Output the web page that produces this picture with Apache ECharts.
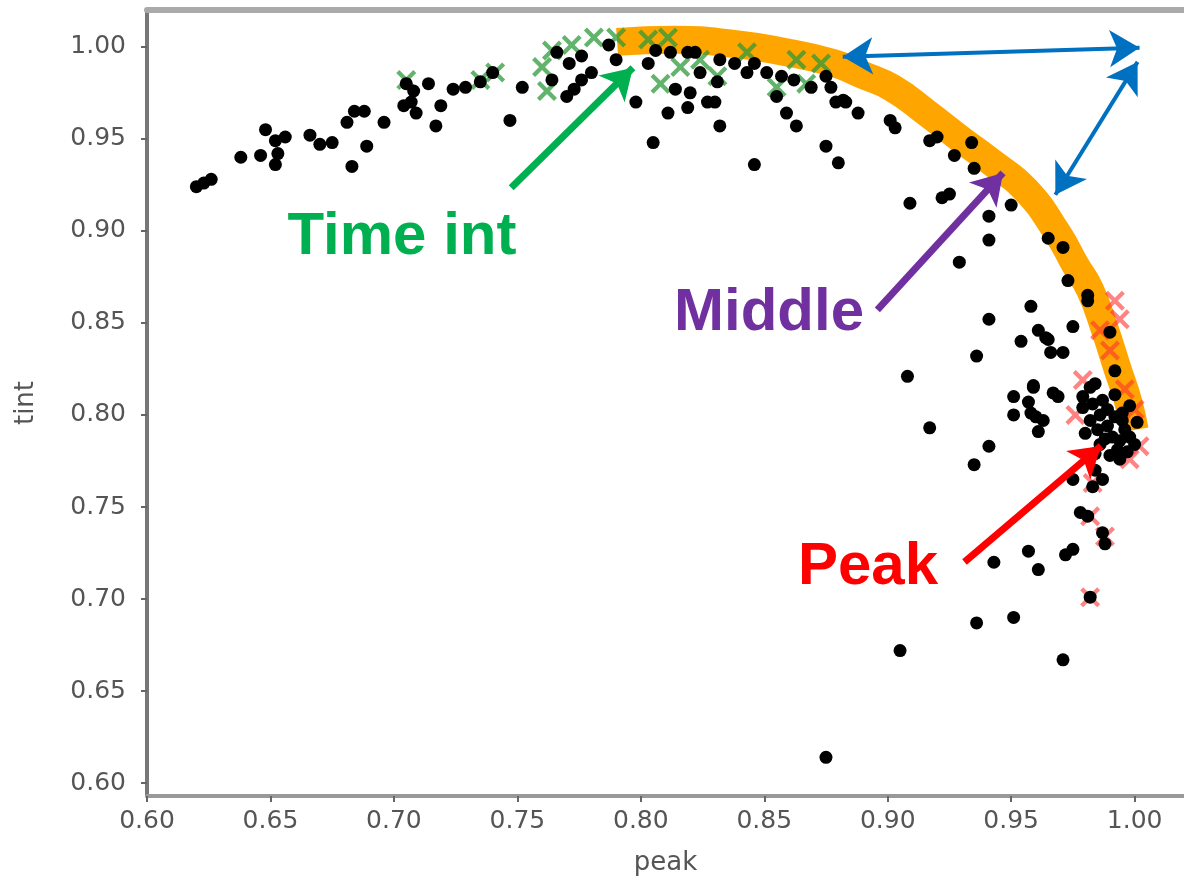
<!DOCTYPE html>
<html>
<head>
<meta charset="utf-8">
<title>peak vs tint</title>
<script src="https://cdn.jsdelivr.net/npm/echarts@6/dist/echarts.min.js"></script>
<style>
  html, body { margin: 0; padding: 0; background: #fff; }
  #chart { width: 1184px; height: 885px; }
</style>
</head>
<body>
<div id="chart"></div>
<script>
// black dots: [peak, tint]
const allPoints = [
  [0.620, 0.924], [0.623, 0.926], [0.626, 0.928], [0.638, 0.940], [0.646, 0.941],
  [0.648, 0.955], [0.652, 0.949], [0.656, 0.951], [0.653, 0.942], [0.652, 0.936],
  [0.666, 0.952], [0.670, 0.947], [0.675, 0.948], [0.683, 0.935], [0.684, 0.965],
  [0.688, 0.965], [0.681, 0.959], [0.689, 0.946], [0.696, 0.959], [0.705, 0.980],
  [0.707, 0.970], [0.709, 0.964], [0.704, 0.968], [0.708, 0.976], [0.714, 0.980],
  [0.717, 0.957], [0.719, 0.968], [0.724, 0.977], [0.729, 0.978], [0.735, 0.981],
  [0.740, 0.986], [0.747, 0.960], [0.752, 0.978], [0.766, 0.997], [0.771, 0.991],
  [0.776, 0.995], [0.764, 0.982], [0.770, 0.973], [0.776, 0.982], [0.773, 0.977],
  [0.787, 1.001], [0.780, 0.986], [0.806, 0.998], [0.803, 0.991], [0.812, 0.997],
  [0.819, 0.997], [0.822, 0.997], [0.814, 0.977], [0.811, 0.964], [0.819, 0.967],
  [0.820, 0.975], [0.827, 0.970], [0.830, 0.970], [0.805, 0.948], [0.832, 0.957],
  [0.824, 0.986], [0.831, 0.981], [0.832, 0.993], [0.838, 0.991], [0.843, 0.986],
  [0.846, 0.991], [0.855, 0.973], [0.859, 0.964], [0.863, 0.957], [0.851, 0.986],
  [0.857, 0.984], [0.862, 0.982], [0.869, 0.978], [0.875, 0.984], [0.877, 0.978],
  [0.882, 0.971], [0.875, 0.946], [0.880, 0.937], [0.846, 0.936], [0.798, 0.970],
  [0.879, 0.970], [0.883, 0.970], [0.888, 0.964], [0.901, 0.960], [0.903, 0.956],
  [0.917, 0.949], [0.920, 0.951], [0.934, 0.948], [0.927, 0.941], [0.935, 0.934],
  [0.909, 0.915], [0.922, 0.918], [0.925, 0.920], [0.950, 0.914], [0.941, 0.908],
  [0.941, 0.895], [0.929, 0.883], [0.965, 0.896], [0.971, 0.891], [0.973, 0.873],
  [0.981, 0.865], [0.958, 0.859], [0.941, 0.852], [0.975, 0.848], [0.954, 0.840],
  [0.961, 0.846], [0.965, 0.841], [0.966, 0.834], [0.971, 0.834], [0.936, 0.832],
  [0.908, 0.821], [0.959, 0.816], [0.951, 0.810], [0.957, 0.807], [0.969, 0.810],
  [0.951, 0.800], [0.958, 0.801], [0.963, 0.797], [0.961, 0.791], [0.917, 0.793],
  [0.941, 0.783], [0.935, 0.773], [0.982, 0.815], [0.979, 0.810], [0.989, 0.803],
  [0.995, 0.797], [0.998, 0.788], [0.993, 0.781], [0.994, 0.776], [0.982, 0.797],
  [0.985, 0.792], [0.990, 0.845], [0.992, 0.824], [0.995, 0.801], [1.001, 0.796],
  [0.979, 0.804], [0.987, 0.808], [0.981, 0.862], [0.984, 0.817], [0.975, 0.765],
  [0.987, 0.765], [0.983, 0.761], [0.978, 0.747], [0.981, 0.745], [0.987, 0.736],
  [0.988, 0.730], [0.975, 0.727], [0.972, 0.724], [0.957, 0.726], [0.943, 0.720],
  [0.961, 0.716], [0.982, 0.701], [0.936, 0.687], [0.951, 0.690], [0.905, 0.672],
  [0.971, 0.667], [0.875, 0.614], [0.964, 0.842], [0.967, 0.812], [0.959, 0.815],
  [0.960, 0.799], [0.986, 0.784], [0.990, 0.778], [0.994, 0.786], [1.000, 0.784],
  [0.984, 0.770], [0.992, 0.811], [0.998, 0.805], [0.790, 0.993],
  [0.983, 0.806], [0.986, 0.800], [0.989, 0.794], [0.991, 0.788], [0.996, 0.792],
  [0.980, 0.790], [0.988, 0.787], [0.992, 0.799], [0.984, 0.779], [0.997, 0.780]
];

// green crosses (Time int)
const timeIntPoints = [
  [0.705, 0.982], [0.735, 0.982], [0.741, 0.986], [0.760, 0.989], [0.762, 0.976],
  [0.764, 0.998], [0.772, 1.001], [0.781, 1.005], [0.790, 1.005], [0.803, 1.004],
  [0.811, 1.005], [0.816, 0.989], [0.808, 0.980], [0.824, 0.993], [0.831, 0.984],
  [0.843, 0.997], [0.855, 0.978], [0.863, 0.993], [0.867, 0.980], [0.873, 0.991]
];

// red crosses (Peak)
const peakPoints = [
  [0.979, 0.819], [1.002, 0.783], [0.983, 0.763], [0.982, 0.745], [0.988, 0.734],
  [0.982, 0.701], [0.986, 0.846], [0.990, 0.835], [0.996, 0.814], [1.000, 0.803],
  [0.976, 0.800], [0.998, 0.776], [0.992, 0.862], [0.994, 0.852]
];

// orange band (Middle)
const middleCurve = [
  [0.7904, 1.0027], [0.8136, 1.0038], [0.8377, 1.0016], [0.8577, 0.9973],
  [0.8778, 0.9913], [0.8898, 0.9848], [0.9018, 0.9777], [0.9158, 0.9641],
  [0.9299, 0.9495], [0.9419, 0.9375], [0.9559, 0.9223], [0.9687, 0.8989],
  [0.9760, 0.8815], [0.9820, 0.8679], [0.9880, 0.8462], [0.9932, 0.8245],
  [0.9972, 0.8082], [1.0000, 0.7918]
];

// annotation arrows [from, to]
const greenArrow = [[0.7475, 0.9234], [0.7968, 0.9886]];
const purpleArrow = [[0.8958, 0.8571], [0.9467, 0.9315]];
const redArrow = [[0.9311, 0.7201], [0.9864, 0.7832]];
const blueArrowTop = [[0.8818, 0.9946], [1.0020, 0.9995]];
const blueArrowSide = [[1.0012, 0.9918], [0.9679, 0.9196]];

const crossPath = 'path://M0,1.5L1.5,0L5,3.5L8.5,0L10,1.5L6.5,5L10,8.5L8.5,10L5,6.5L1.5,10L0,8.5L3.5,5Z';

function arrow(pts, color, width, both) {
  const style = { color: color, width: width, type: 'solid', opacity: 1 };
  return [
    { coord: pts[0], lineStyle: style, symbol: both ? 'arrow' : 'none' },
    { coord: pts[1], lineStyle: style, symbol: 'arrow' }
  ];
}

var myChart = echarts.init(document.getElementById('chart'));

const labelFont = { fontFamily: 'DejaVu Sans', fontSize: 25, color: '#555' };
const nameFont = { fontFamily: 'DejaVu Sans', fontSize: 26, color: '#555' };

const options = {
  animation: false,
  backgroundColor: '#fff',
  grid: { left: 147, top: 10, width: 1048, height: 786 },
  xAxis: [
    {
      type: 'value', min: 0.6, max: 1.02, splitNumber: 8,
      name: 'peak', nameLocation: 'middle', nameGap: 54,
      nameTextStyle: nameFont,
      axisLine: { lineStyle: { color: '#999', width: 4 } },
      axisTick: { show: true, length: 6, lineStyle: { color: '#666', width: 2 } },
      axisLabel: Object.assign({ margin: 13, showMaxLabel: false,
        formatter: v => v.toFixed(2) }, labelFont),
      splitLine: { show: false }
    },
    {
      type: 'value', position: 'top', min: 0.6, max: 1.02,
      axisLine: { show: true, lineStyle: { color: '#aaa', width: 6 } },
      axisTick: { show: false }, axisLabel: { show: false }, splitLine: { show: false }
    }
  ],
  yAxis: {
    type: 'value', min: 0.593, max: 1.02, splitNumber: 8,
    name: 'tint', nameLocation: 'middle', nameGap: 108,
    nameTextStyle: nameFont,
    axisLine: { show: true, lineStyle: { color: '#777', width: 4 } },
    axisTick: { show: true, length: 6, lineStyle: { color: '#666', width: 2 } },
    axisLabel: Object.assign({ margin: 21, showMinLabel: false, showMaxLabel: false,
      formatter: v => v.toFixed(2) }, labelFont),
    splitLine: { show: false }
  },
  series: [
    {
      name: 'Middle', type: 'line', data: middleCurve, z: 1,
      showSymbol: false, smooth: 0.5,
      lineStyle: { color: '#FFA500', width: 28, cap: 'butt' }
    },
    {
      name: 'Time int', type: 'scatter', data: timeIntPoints, z: 2,
      symbol: crossPath, symbolSize: 20,
      itemStyle: { color: '#2e9a3a', opacity: 0.75 }
    },
    {
      name: 'Peak', type: 'scatter', data: peakPoints, z: 2,
      symbol: crossPath, symbolSize: 20,
      itemStyle: { color: '#ff3030', opacity: 0.6 }
    },
    {
      name: 'all', type: 'scatter', data: allPoints, z: 3,
      symbolSize: 13, itemStyle: { color: '#000', opacity: 1 }
    },
    {
      name: 'arrows', type: 'scatter', data: [], z: 4,
      markLine: {
        silent: true, animation: false,
        symbolSize: [28, 30],
        label: { show: false },
        emphasis: { disabled: true },
        data: [
          arrow(greenArrow, '#00B050', 7, false),
          arrow(purpleArrow, '#7030A0', 7, false),
          arrow(redArrow, '#FF0000', 7, false),
          arrow(blueArrowTop, '#0070C0', 4, true),
          arrow(blueArrowSide, '#0070C0', 4, true)
        ]
      }
    }
  ],
  graphic: [
    { type: 'text', x: 402, y: 237, z: 100,
      style: { text: 'Time int', fill: '#00B050', font: 'bold 60px "Liberation Sans"',
        textAlign: 'center', textVerticalAlign: 'middle' } },
    { type: 'text', x: 769, y: 313, z: 100,
      style: { text: 'Middle', fill: '#7030A0', font: 'bold 60px "Liberation Sans"',
        textAlign: 'center', textVerticalAlign: 'middle' } },
    { type: 'text', x: 868, y: 567, z: 100,
      style: { text: 'Peak', fill: '#FF0000', font: 'bold 60px "Liberation Sans"',
        textAlign: 'center', textVerticalAlign: 'middle' } }
  ]
};

myChart.setOption(options);
</script>
</body>
</html>
